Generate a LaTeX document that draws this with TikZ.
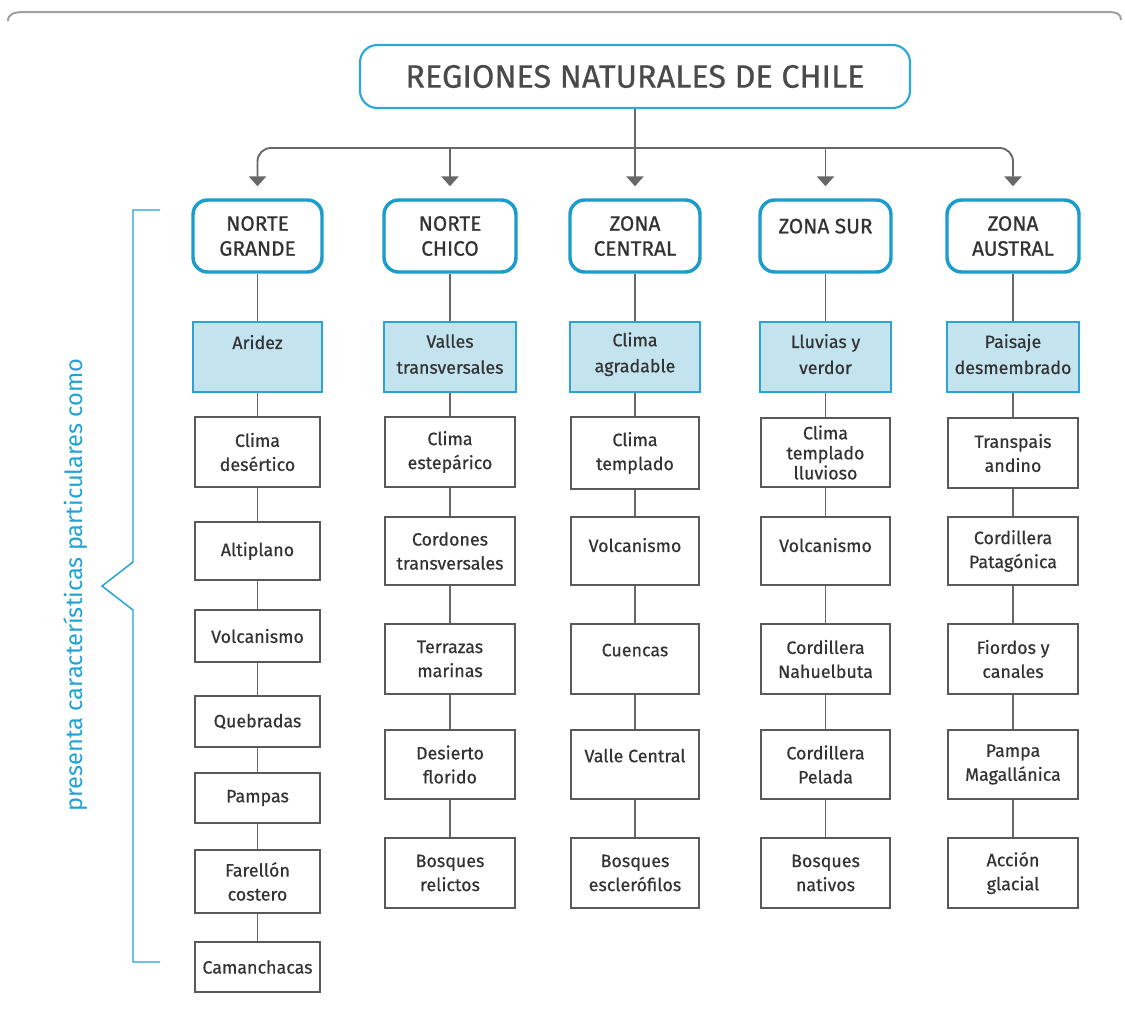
\documentclass[tikz,border=0pt]{standalone}
\usepackage{fontspec}
\setmainfont{Fira Sans}
\newfontfamily\medfont{Fira Sans}[FakeBold=0.5]
\newfontfamily\hdrfont{Fira Sans}[FakeBold=0.8]
\usetikzlibrary{arrows.meta}
\definecolor{cyT}{HTML}{2AA8DA}
\definecolor{cyH}{HTML}{1A9CCD}
\definecolor{cyB}{HTML}{2BA3D3}
\definecolor{blF}{HTML}{C3E3EF}
\definecolor{gB}{HTML}{595959}
\definecolor{gL}{HTML}{686868}
\definecolor{txt}{HTML}{333333}
\definecolor{ttl}{HTML}{4A4A4A}
\definecolor{frm}{HTML}{A0A0A0}
\definecolor{sideC}{HTML}{1FA2D6}
\newcommand\mkbox[7]{\node[#6, minimum width={(#4-#2)*0.75pt}, minimum height={(#5-#3)*0.75pt}] (#1) at ({(#2+#4)/2},{(#3+#5)/2}) {#7};}
\begin{document}
\begin{tikzpicture}[x=0.75pt,y=-0.75pt,
 base/.style={align=center, inner sep=0pt, text=txt},
 ttlbox/.style={base, draw=cyT, line width=1.6pt, rounded corners=13pt, text=ttl, font=\medfont\fontsize{24.3}{28}\selectfont},
 hdr/.style={base, draw=cyH, line width=2.6pt, rounded corners=11pt, fill=white, font=\hdrfont\fontsize{15.6}{18.75}\selectfont},
 bluebox/.style={base, draw=cyB, line width=1.2pt, fill=blF, font=\medfont\fontsize{13.4}{19.5}\selectfont},
 wbox/.style={base, draw=gB, line width=1.5pt, fill=white, font=\medfont\fontsize{13.4}{18}\selectfont},
 conn/.style={draw=gL, line width=1.4pt},
 arr/.style={conn, -{Triangle[width=13pt,length=7.5pt]}, shorten >=9pt},
 brace/.style={draw=sideC, line width=1.1pt},
 frame/.style={draw=frm, line width=1.5pt},
]
\useasboundingbox (0,0) rectangle (1125,1008);
% frame top
\draw[frame] (8,21) .. controls (8,14) and (14,12) .. (24,12) -- (1108,12) .. controls (1117,12) and (1121,14) .. (1121,20);

% title
\mkbox{title}{360}{45}{910}{108}{ttlbox}{REGIONES NATURALES DE CHILE}

% headers
\mkbox{h1}{193}{200}{322}{272}{hdr}{NORTE\\GRANDE}
\mkbox{h2}{384}{200}{516}{272}{hdr}{NORTE\\CHICO}
\mkbox{h3}{570}{200}{700}{272}{hdr}{ZONA\\CENTRAL}
\mkbox{h4}{760}{200}{891}{272}{hdr,text depth=15pt}{ZONA SUR}
\mkbox{h5}{947}{200}{1079}{272}{hdr}{ZONA\\AUSTRAL}

% blue boxes
\mkbox{b1}{193}{322}{322}{392}{bluebox,text depth=22.5pt}{Aridez}
\mkbox{b2}{384}{322}{516}{392}{bluebox,text depth=4.5pt}{Valles\\transversales}
\mkbox{b3}{570}{322}{700}{392}{bluebox,text depth=7pt}{Clima\\agradable}
\mkbox{b4}{760}{322}{891}{392}{bluebox,text depth=4.5pt}{Lluvias y\\verdor}
\mkbox{b5}{947}{322}{1079}{392}{bluebox,text depth=4.5pt}{Paisaje\\desmembrado}

% column 1
\mkbox{a1}{195}{417}{320}{487}{wbox}{Clima\\desértico}
\mkbox{a2}{195}{522}{320}{580}{wbox}{Altiplano}
\mkbox{a3}{195}{610}{320}{662}{wbox}{Volcanismo}
\mkbox{a4}{195}{696}{320}{747}{wbox}{Quebradas}
\mkbox{a5}{195}{773}{320}{823}{wbox}{Pampas}
\mkbox{a6}{195}{850}{320}{913}{wbox}{Farellón\\costero}
\mkbox{a7}{195}{942}{320}{992}{wbox}{Camanchacas}

% column 2
\mkbox{c1}{385}{417}{515}{487}{wbox}{Clima\\estepárico}
\mkbox{c2}{385}{517}{515}{585}{wbox}{Cordones\\transversales}
\mkbox{c3}{385}{624}{515}{694}{wbox}{Terrazas\\marinas}
\mkbox{c4}{385}{730}{515}{799}{wbox}{Desierto\\florido}
\mkbox{c5}{385}{838}{515}{908}{wbox}{Bosques\\relictos}

% column 3
\mkbox{d1}{571}{417}{699}{489}{wbox}{Clima\\templado}
\mkbox{d2}{571}{517}{699}{585}{wbox,text depth=9pt}{Volcanismo}
\mkbox{d3}{571}{624}{699}{694}{wbox,text depth=13.5pt}{Cuencas}
\mkbox{d4}{571}{730}{699}{799}{wbox,text depth=13.5pt}{Valle Central}
\mkbox{d5}{571}{838}{699}{908}{wbox}{Bosques\\esclerófilos}

% column 4
\mkbox{e1}{761}{418}{890}{487}{wbox,font=\medfont\fontsize{13.4}{15}\selectfont}{Clima\\templado\\lluvioso}
\mkbox{e2}{761}{517}{890}{585}{wbox,text depth=9pt}{Volcanismo}
\mkbox{e3}{761}{624}{890}{694}{wbox}{Cordillera\\Nahuelbuta}
\mkbox{e4}{761}{730}{890}{799}{wbox}{Cordillera\\Pelada}
\mkbox{e5}{761}{838}{890}{908}{wbox}{Bosques\\nativos}

% column 5
\mkbox{f1}{948}{418}{1078}{488}{wbox}{Transpais\\andino}
\mkbox{f2}{948}{517}{1078}{585}{wbox}{Cordillera\\Patagónica}
\mkbox{f3}{948}{624}{1078}{694}{wbox}{Fiordos y\\canales}
\mkbox{f4}{948}{730}{1078}{799}{wbox}{Pampa\\Magallánica}
\mkbox{f5}{948}{838}{1078}{908}{wbox}{Acción\\glacial}

% top connectors
\coordinate (bus) at (635,148);
\draw[arr] (title.south) -- (h3.north);
\draw[arr, rounded corners=10pt] (bus) -| (h1.north);
\draw[arr, rounded corners=10pt] (bus) -| (h5.north);
\draw[arr] (bus -| h2.north) -- (h2.north);
\draw[arr] (bus -| h4.north) -- (h4.north);

% vertical connectors
\foreach \p/\q in {h1/b1,b1/a1,a1/a2,a2/a3,a3/a4,a4/a5,a5/a6,a6/a7,
                   h2/b2,b2/c1,c1/c2,c2/c3,c3/c4,c4/c5,
                   h3/b3,b3/d1,d1/d2,d2/d3,d3/d4,d4/d5,
                   h4/b4,b4/e1,e1/e2,e2/e3,e3/e4,e4/e5,
                   h5/b5,b5/f1,f1/f2,f2/f3,f3/f4,f4/f5}
  \draw[conn] (\p) -- (\q);

% brace
\draw[brace] (160,210) -- (133,210) -- (133,562) -- (102,586) -- (133,610) -- (133,962) -- (160,962);
\node[rotate=90, text=sideC, font=\fontsize{17.7}{21}\selectfont, inner sep=0pt] (side) at (76,585) {presenta características particulares como};
\end{tikzpicture}
\end{document}
